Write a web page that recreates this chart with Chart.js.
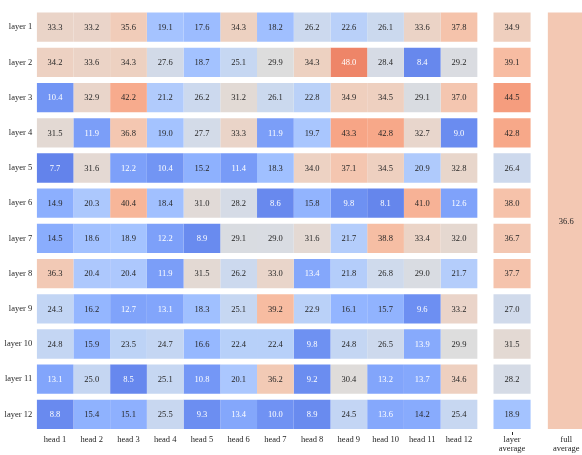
<!DOCTYPE html>
<html lang="en">
<head>
  <meta charset="UTF-8">
  <title>Head scores per layer</title>
  <style>
    body {
      margin: 0;
      background: #ffffff;
      font-family: "Liberation Serif", serif;
    }
  </style>
</head>
<body>
<canvas id="myChart" width="582" height="455"></canvas>

<script src="https://cdn.jsdelivr.net/npm/chart.js"></script>
<script>
  // data
  const layers = ['layer 1', 'layer 2', 'layer 3', 'layer 4', 'layer 5', 'layer 6',
    'layer 7', 'layer 8', 'layer 9', 'layer 10', 'layer 11', 'layer 12'];
  const heads = ['head 1', 'head 2', 'head 3', 'head 4', 'head 5', 'head 6',
    'head 7', 'head 8', 'head 9', 'head 10', 'head 11', 'head 12'];
  const scores = [
    [33.3, 33.2, 35.6, 19.1, 17.6, 34.3, 18.2, 26.2, 22.6, 26.1, 33.6, 37.8],
    [34.2, 33.6, 34.3, 27.6, 18.7, 25.1, 29.9, 34.3, 48.0, 28.4, 8.4, 29.2],
    [10.4, 32.9, 42.2, 21.2, 26.2, 31.2, 26.1, 22.8, 34.9, 34.5, 29.1, 37.0],
    [31.5, 11.9, 36.8, 19.0, 27.7, 33.3, 11.9, 19.7, 43.3, 42.8, 32.7, 9.0],
    [7.7, 31.6, 12.2, 10.4, 15.2, 11.4, 18.3, 34.0, 37.1, 34.5, 20.9, 32.8],
    [14.9, 20.3, 40.4, 18.4, 31.0, 28.2, 8.6, 15.8, 9.8, 8.1, 41.0, 12.6],
    [14.5, 18.6, 18.9, 12.2, 8.9, 29.1, 29.0, 31.6, 21.7, 38.8, 33.4, 32.0],
    [36.3, 20.4, 20.4, 11.9, 31.5, 26.2, 33.0, 13.4, 21.8, 26.8, 29.0, 21.7],
    [24.3, 16.2, 12.7, 13.1, 18.3, 25.1, 39.2, 22.9, 16.1, 15.7, 9.6, 33.2],
    [24.8, 15.9, 23.5, 24.7, 16.6, 22.4, 22.4, 9.8, 24.8, 26.5, 13.9, 29.9],
    [13.1, 25.0, 8.5, 25.1, 10.8, 20.1, 36.2, 9.2, 30.4, 13.2, 13.7, 34.6],
    [8.8, 15.4, 15.1, 25.5, 9.3, 13.4, 10.0, 8.9, 24.5, 13.6, 14.2, 25.4]
  ];
  const layerAverage = [34.9, 39.1, 44.5, 42.8, 26.4, 38.0, 36.7, 37.7, 27.0, 31.5, 28.2, 18.9];
  const fullAverage = 36.6;

  // colour scale (coolwarm, 0..60)
  const vmin = 0, vmax = 60;
  const coolwarm = [
    [59, 76, 192], [68, 90, 204], [77, 104, 215], [87, 117, 225], [98, 130, 234],
    [108, 142, 241], [119, 154, 247], [130, 165, 251], [141, 176, 254], [152, 185, 255],
    [163, 194, 255], [174, 201, 253], [184, 208, 249], [194, 213, 244], [204, 217, 238],
    [213, 219, 230], [221, 221, 221], [229, 216, 209], [236, 211, 197], [241, 204, 185],
    [245, 196, 173], [247, 187, 160], [247, 177, 148], [247, 166, 135], [244, 154, 123],
    [241, 141, 111], [236, 127, 99], [229, 112, 88], [222, 96, 77], [213, 80, 66],
    [203, 62, 56], [192, 40, 47], [180, 4, 38]
  ];

  const FONT = "'Liberation Serif', 'Times New Roman', serif";
  const FONT_SIZE = 8.5;

  function cmap(v) {
    let t = (v - vmin) / (vmax - vmin);
    t = Math.max(0, Math.min(1, t)) * (coolwarm.length - 1);
    const i = Math.min(Math.floor(t), coolwarm.length - 2);
    const f = t - i;
    const a = coolwarm[i], b = coolwarm[i + 1];
    return [0, 1, 2].map(k => a[k] + (b[k] - a[k]) * f);
  }
  function rgb(c) {
    return 'rgb(' + c.map(Math.round).join(',') + ')';
  }
  // same rule seaborn uses for annotation colour
  function textColor(v) {
    const lin = cmap(v).map(x => {
      x = x / 255;
      return x <= 0.03928 ? x / 12.92 : Math.pow((x + 0.055) / 1.055, 2.4);
    });
    const lum = 0.2126 * lin[0] + 0.7152 * lin[1] + 0.0722 * lin[2];
    return lum > 0.408 ? 'rgb(38,38,38)' : '#ffffff';
  }

  // column placement on the x axis (in column units)
  const LAYER_AVG_X = [12.44, 13.45];
  const FULL_AVG_X = [13.92, 14.92];
  const X_MAX = 14.85;

  const datasets = [];
  heads.forEach((h, c) => {
    datasets.push({
      label: h,
      yAxisID: 'y',
      data: layers.map((l, r) => ({ x: [c, c + 1], y: l, v: scores[r][c] })),
      backgroundColor: layers.map((l, r) => rgb(cmap(scores[r][c])))
    });
  });
  datasets.push({
    label: 'layer average',
    yAxisID: 'y',
    data: layers.map((l, r) => ({ x: LAYER_AVG_X, y: l, v: layerAverage[r] })),
    backgroundColor: layerAverage.map(v => rgb(cmap(v)))
  });
  datasets.push({
    label: 'full average',
    yAxisID: 'y2',
    barPercentage: 426 / 432,
    data: [{ x: FULL_AVG_X, y: 'all', v: fullAverage }],
    backgroundColor: rgb(cmap(fullAverage))
  });

  const tickCenters = heads.map((h, i) => i + 0.5)
    .concat([(LAYER_AVG_X[0] + LAYER_AVG_X[1]) / 2, (FULL_AVG_X[0] + FULL_AVG_X[1]) / 2]);
  const tickLabels = heads.concat([['layer', 'average'], ['full', 'average']]);

  // write the numbers in the cells
  const cellText = {
    id: 'cellText',
    afterDatasetsDraw(chart) {
      const ctx = chart.ctx;
      ctx.save();
      ctx.font = FONT_SIZE + 'px ' + FONT;
      ctx.textAlign = 'center';
      ctx.textBaseline = 'middle';
      chart.data.datasets.forEach((ds, di) => {
        chart.getDatasetMeta(di).data.forEach((bar, i) => {
          const v = ds.data[i].v;
          ctx.fillStyle = textColor(v);
          ctx.fillText(v.toFixed(1), (bar.base + bar.x) / 2, bar.y + 0.5);
        });
      });
      ctx.restore();
    }
  };

  function draw() {
    const ctx = document.getElementById('myChart').getContext('2d');
    new Chart(ctx, {
      type: 'bar',
      data: { labels: layers, datasets: datasets },
      plugins: [cellText],
      options: {
        indexAxis: 'y',
        responsive: false,
        animation: false,
        layout: { padding: 0 },
        datasets: {
          bar: {
            grouped: false,
            barPercentage: 30 / 36,
            categoryPercentage: 1,
            borderWidth: 0
          }
        },
        plugins: {
          legend: { display: false },
          tooltip: { enabled: false }
        },
        scales: {
          x: {
            type: 'linear',
            min: 0,
            max: X_MAX,
            border: { display: false },
            grid: {
              drawOnChartArea: false,
              drawTicks: true,
              tickLength: 3,
              color: c => (c.index === 12 ? '#262626' : 'rgba(0,0,0,0)')
            },
            afterBuildTicks: scale => {
              scale.ticks = tickCenters.map(v => ({ value: v }));
            },
            afterFit: scale => { scale.height = 23; },
            ticks: {
              autoSkip: false,
              maxRotation: 0,
              padding: 0,
              color: '#262626',
              font: { family: FONT, size: FONT_SIZE, lineHeight: 1.1 },
              callback: (v, i) => tickLabels[i]
            }
          },
          y: {
            type: 'category',
            labels: layers,
            border: { display: false },
            grid: { display: false, drawTicks: false },
            afterFit: scale => { scale.width = 36.7; },
            ticks: {
              padding: 4.5,
              color: '#262626',
              font: { family: FONT, size: FONT_SIZE }
            }
          },
          y2: {
            type: 'category',
            labels: ['all'],
            display: false
          }
        }
      }
    });
  }

  if (document.fonts && document.fonts.load) {
    document.fonts.load(FONT_SIZE + 'px ' + FONT).then(draw, draw);
  } else {
    draw();
  }
</script>
</body>
</html>
